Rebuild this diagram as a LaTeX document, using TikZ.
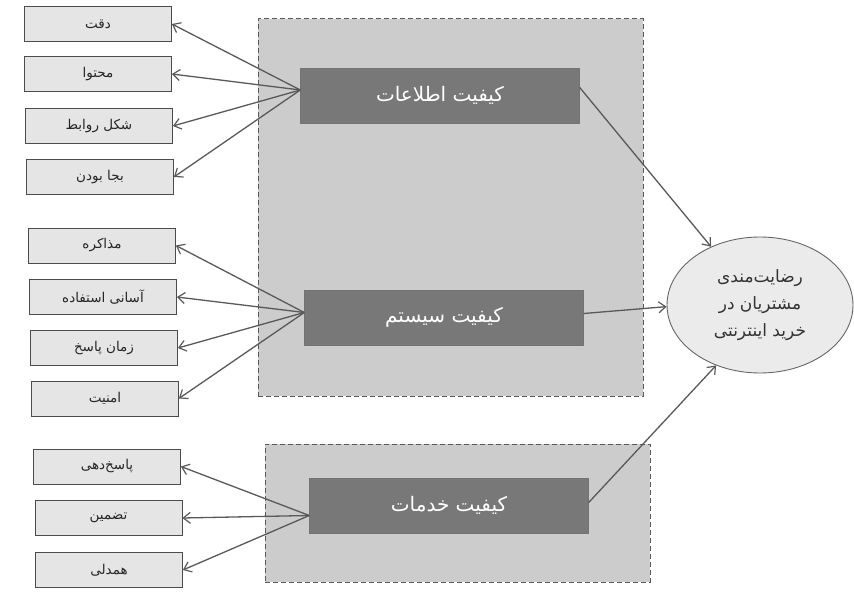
\documentclass[tikz,border=0pt]{standalone}
\usepackage{fontspec}
\usetikzlibrary{shapes.geometric,arrows.meta}
\TeXXeTstate=1
\newfontfamily\arabicfont[Script=Arabic]{DejaVu Sans}
\newcommand\fa[1]{{\arabicfont\beginR #1\endR}}

\begin{document}
\begin{tikzpicture}[x=1pt,y=-1pt,
  region/.style={draw=black!65, fill=black!20, line width=1pt,
    dash pattern=on 5pt off 3pt, inner sep=0pt, minimum width=385pt},
  factor/.style={draw=black!55, fill=black!53, text=white, inner sep=0pt,
    minimum width=279pt, minimum height=55pt, font=\fontsize{20}{24}\selectfont},
  item/.style={draw=black!70, fill=black!10, inner sep=0pt, line width=0.8pt,
    minimum width=147pt, minimum height=35pt, text=black!85,
    font=\fontsize{13.5}{16}\selectfont},
  goal/.style={ellipse, draw=black!60, fill=black!8, inner sep=0pt, line width=0.9pt,
    minimum width=186pt, minimum height=136pt, align=center, text=black!80,
    font=\fontsize{17}{27}\selectfont},
  link/.style={draw=black!65, line width=1.3pt,
    -{Straight Barb[length=7pt,width=11pt,line width=1.2pt]}}
]
\useasboundingbox (0,0) rectangle (854,596);

% dashed group panels
\node[region, minimum height=377pt] (panelA) at (450.5,207.5) {};
\node[region, minimum height=138pt] (panelB) at (457.5,513) {};

% quality factors
\node[factor] (info) at (440,95.5) {\fa{کیفیت اطلاعات}};
\node[factor] (sys)  at (444,317.5) {\fa{کیفیت سیستم}};
\node[factor] (serv) at (449,505.5) {\fa{کیفیت خدمات}};

% outcome
\node[goal] (sat) at (760,305) {\fa{رضایت‌مندی}\\\fa{مشتریان در}\\\fa{خرید اینترنتی}};

% information quality items
\node[item] (i1) at (98,24)    {\fa{دقت}};
\node[item] (i2) at (98,74)    {\fa{محتوا}};
\node[item] (i3) at (99,126)   {\fa{شکل روابط}};
\node[item] (i4) at (100,177)  {\fa{بجا بودن}};

% system quality items
\node[item] (s1) at (102,245.5) {\fa{مذاکره}};
\node[item] (s2) at (103,297)   {\fa{آسانی استفاده}};
\node[item] (s3) at (104,348)   {\fa{زمان پاسخ}};
\node[item] (s4) at (105,398.5) {\fa{امنیت}};

% service quality items
\node[item] (v1) at (107,466.5) {\fa{پاسخ‌دهی}};
\node[item] (v2) at (108.5,518) {\fa{تضمین}};
\node[item] (v3) at (109,570)   {\fa{همدلی}};

% fan-out points on the factor boxes
\coordinate (infoJ) at ([yshift=5.5pt]info.west);
\coordinate (sysJ)  at ([yshift=5pt]sys.west);
\coordinate (servJ) at ([yshift=-10pt]serv.west);

\foreach \t in {i1,i2,i3,i4} \draw[link] (infoJ) -- (\t.east);
\foreach \t in {s1,s2,s3,s4} \draw[link] (sysJ) -- (\t.east);
\foreach \t in {v1,v2,v3}    \draw[link] (servJ) -- (\t.east);

% factors to satisfaction
\draw[link] ([yshift=8pt]info.east) -- (sat.130);
\draw[link] ([yshift=4pt]sys.east) -- (sat.181);
\draw[link] ([yshift=3pt]serv.east) -- (sat.234);
\end{tikzpicture}
\end{document}
